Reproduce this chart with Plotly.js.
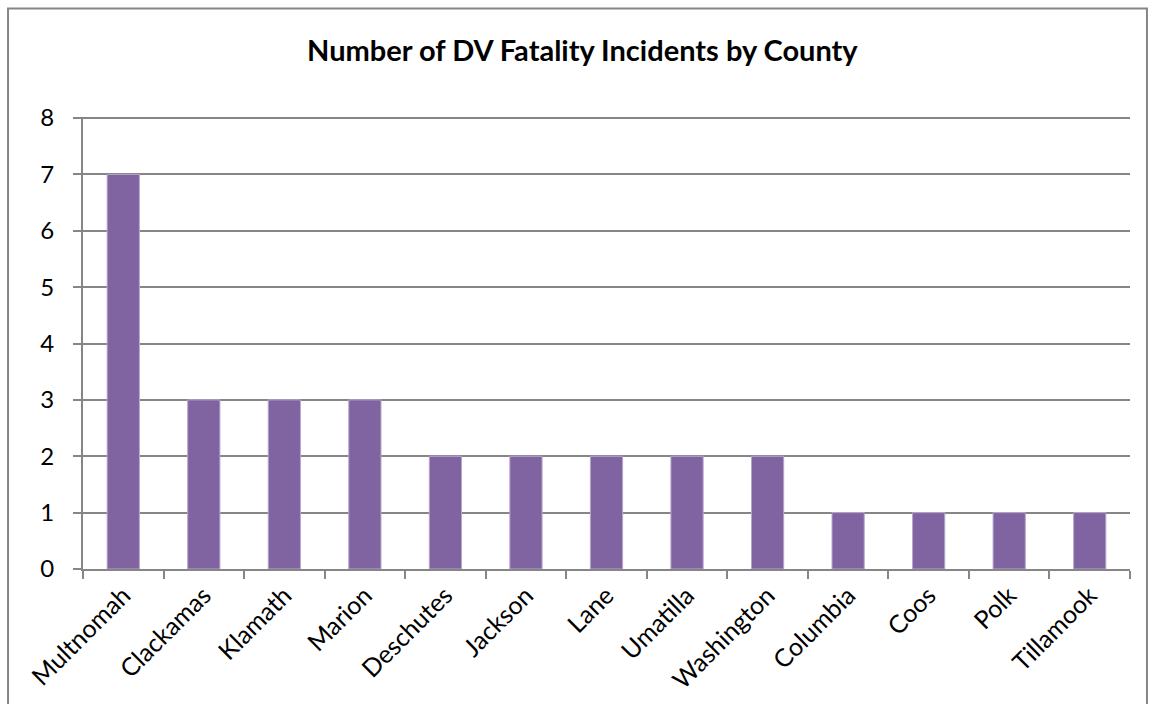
<!DOCTYPE html>
<html><head><meta charset="utf-8">
<script src="https://cdn.plot.ly/plotly-3.0.1.min.js"></script>
<style>html,body{margin:0;padding:0;background:#fff;}#chart{width:1151px;height:704px;}</style>
</head><body><div id="chart"></div>
<script>
const counties = ["Multnomah","Clackamas","Klamath","Marion","Deschutes","Jackson","Lane","Umatilla","Washington","Columbia","Coos","Polk","Tillamook"];
const incidents = [7,3,3,3,2,2,2,2,2,1,1,1,1];
const yTicks = [0,1,2,3,4,5,6,7,8];
const chartTitle = "Number of DV Fatality Incidents by County";

const font = "Lato, 'Open Sans', sans-serif";
Plotly.newPlot("chart", [{
  type: "bar", x: counties, y: incidents,
  marker: {color: "#8064A2", line: {color: "#B7A6CC", width: 1}},
  hoverinfo: "x+y"
}], {
  width: 1151, height: 704,
  margin: {l: 83, r: 21, t: 118, b: 135},
  paper_bgcolor: "#fff", plot_bgcolor: "#fff",
  bargap: 0.6,
  showlegend: false,
  title: {text: "<b>" + chartTitle + "</b>", x: 0.506, xanchor: "center", y: 0.928, yanchor: "middle",
          font: {family: font, size: 29, color: "#000"}},
  xaxis: {type: "category", showgrid: false, showline: true, linecolor: "#868686", linewidth: 2,
          ticks: "outside", tickson: "boundaries", ticklen: 8, tickcolor: "#868686", tickwidth: 2,
          tickangle: -45, tickfont: {family: font, size: 25, color: "#000"}, fixedrange: true},
  yaxis: {range: [0, 8], tickvals: yTicks, showgrid: true, gridcolor: "#868686", gridwidth: 2,
          showline: true, linecolor: "#868686", linewidth: 2, zeroline: false,
          ticks: "outside", ticklen: 8, tickcolor: "#868686", tickwidth: 2, ticklabelstandoff: 14,
          tickfont: {family: font, size: 24, color: "#000"}, fixedrange: true},
  shapes: [
    {type: "line", xref: "paper", yref: "paper", x0: -0.0076, x1: 1, y0: 1, y1: 1,
     line: {color: "#868686", width: 2}},
    {type: "rect", xref: "paper", yref: "paper", x0: -0.0716, x1: 1.0162, y0: -0.5, y1: 1.2428,
     line: {color: "#868686", width: 2}, fillcolor: "rgba(0,0,0,0)"}]
}, {displayModeBar: false, staticPlot: true});
</script></body></html>
